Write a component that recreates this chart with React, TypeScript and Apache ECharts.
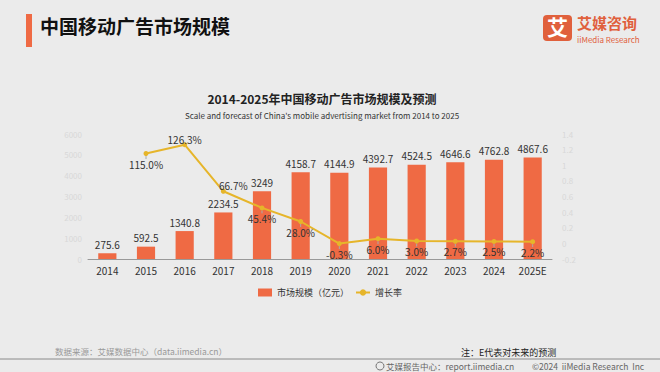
import React, { useEffect, useRef } from "react";
import * as echarts from "echarts";

const categories = ["2014", "2015", "2016", "2017", "2018", "2019", "2020", "2021", "2022", "2023", "2024", "2025E"];
const marketSize = [275.6, 592.5, 1340.8, 2234.5, 3249, 4158.7, 4144.9, 4392.7, 4524.5, 4646.6, 4762.8, 4867.6];
const growthRate: (number | string)[] = ["-", 1.15, 1.263, 0.667, 0.454, 0.28, -0.003, 0.06, 0.03, 0.027, 0.025, 0.022];
const leftTicks = { min: 0, max: 6000, interval: 1000 };
const rightTicks = { min: -0.2, max: 1.4, interval: 0.2 };

const FONT = "'Noto Sans CJK SC', 'Noto Sans', sans-serif";
const ORANGE = "#ef6a44";
const GOLD = "#e6b52a";

export default function App() {
  const ref = useRef<HTMLDivElement>(null);
  useEffect(() => {
    document.body.style.margin = "0";
    const chart = echarts.init(ref.current!, undefined, { renderer: "svg" });
    chart.setOption({
      animation: false,
      backgroundColor: "#ebebeb",
      textStyle: { fontFamily: FONT },
      grid: { left: 88, right: 108, top: 134, bottom: 113, containLabel: false },
      legend: {
        top: 283,
        left: "center",
        itemWidth: 14,
        itemHeight: 8,
        itemGap: 6,
        textStyle: { fontSize: 9, color: "#333", fontFamily: FONT },
        data: [
          { name: "市场规模（亿元）", icon: "rect" },
          { name: "增长率" },
        ],
      },
      xAxis: {
        type: "category",
        data: categories,
        axisLine: { lineStyle: { color: "#999", width: 1 } },
        axisTick: { show: false },
        axisLabel: { color: "#333", fontSize: 10, margin: 6, fontFamily: FONT },
      },
      yAxis: [
        {
          type: "value",
          ...leftTicks,
          splitLine: { show: false },
          axisLine: { show: false },
          axisTick: { show: false },
          axisLabel: { color: "#d8d8d8", fontSize: 8, margin: 6, formatter: (v: number) => String(v) },
        },
        {
          type: "value",
          ...rightTicks,
          splitLine: { show: false },
          axisLine: { show: false },
          axisTick: { show: false },
          axisLabel: {
            color: "#d8d8d8",
            fontSize: 8,
            margin: 10,
            formatter: (v: number) => String(Math.round(v * 10) / 10),
          },
        },
      ],
      series: [
        {
          name: "市场规模（亿元）",
          type: "bar",
          data: marketSize,
          barWidth: "47%",
          itemStyle: { color: ORANGE },
          label: { show: true, position: "top", color: "#333", fontSize: 10, distance: 4, fontFamily: FONT },
        },
        {
          name: "增长率",
          type: "line",
          yAxisIndex: 1,
          data: growthRate.map((v, i) => {
            if (i === 2) return { value: v, label: { position: "top", distance: -2 } };
            if (i === 3) return { value: v, label: { position: "top", distance: 0 } };
            return v;
          }),
          itemStyle: { color: GOLD },
          lineStyle: { color: GOLD, width: 2 },
          symbol: "circle",
          symbolSize: 5,
          label: {
            show: true,
            position: "bottom",
            distance: 3,
            color: "#333",
            fontSize: 10,
            fontFamily: FONT,
            formatter: (p: any) => (p.value * 100).toFixed(1) + "%",
          },
          labelLine: { show: true, lineStyle: { color: "#aaa", width: 1 } },
          labelLayout: (p: any) => (p.dataIndex === 3 ? { dx: 10, dy: 2 } : {}),
        },
      ],
      graphic: [
        { type: "rect", left: 26, top: 14, shape: { width: 6, height: 33 }, style: { fill: ORANGE } },
        {
          type: "text", left: 40, top: 16,
          style: { text: "中国移动广告市场规模", fontSize: 19, fontWeight: "bold", fill: "#111", fontFamily: FONT },
        },
        { type: "rect", left: 543, top: 15, shape: { width: 29, height: 26, r: 4 }, style: { fill: "#e0603c" } },
        {
          type: "text", left: 547, top: 15,
          style: { text: "艾", fontSize: 21, fontWeight: "bold", fill: "#fff", fontFamily: FONT },
        },
        {
          type: "text", x: 577, y: 22,
          style: { text: "艾媒咨询", fontSize: 15, fontWeight: "bold", fill: "#e0603c", verticalAlign: "middle", fontFamily: FONT },
        },
        {
          type: "text", x: 577, y: 39,
          style: { text: "iiMedia Research", fontSize: 8, fill: "#e0603c", verticalAlign: "middle", fontFamily: FONT },
        },
        {
          type: "text", x: 322, y: 98,
          style: { text: "2014-2025年中国移动广告市场规模及预测", fontSize: 12, fontWeight: "bold", fill: "#222", align: "center", verticalAlign: "middle", fontFamily: FONT },
        },
        {
          type: "text", x: 322, y: 115,
          style: { text: "Scale and forecast of China's mobile advertising market from 2014 to 2025", fontSize: 8, fill: "#333", align: "center", verticalAlign: "middle", fontFamily: FONT },
        },
        {
          type: "text", x: 55, y: 351,
          style: { text: "数据来源：艾媒数据中心（data.iimedia.cn）", fontSize: 8.5, fill: "#999", verticalAlign: "middle", fontFamily: FONT },
        },
        {
          type: "text", x: 461, y: 352,
          style: { text: "注：E代表对未来的预测", fontSize: 9, fill: "#222", verticalAlign: "middle", fontFamily: FONT },
        },
        { type: "line", shape: { x1: 0, y1: 359, x2: 660, y2: 359 }, style: { stroke: "#8a8a8a", lineWidth: 1 } },
        { type: "circle", shape: { cx: 380, cy: 366, r: 4 }, style: { fill: "none", stroke: "#777", lineWidth: 1 } },
        {
          type: "text", x: 386, y: 366,
          style: { text: "艾媒报告中心：report.iimedia.cn", fontSize: 8.5, fill: "#666", verticalAlign: "middle", fontFamily: FONT },
        },
        {
          type: "text", x: 532, y: 366,
          style: { text: "©2024  iiMedia Research  Inc", fontSize: 8.5, fill: "#666", verticalAlign: "middle", fontFamily: FONT },
        },
      ],
    });
    return () => chart.dispose();
  }, []);
  return <div ref={ref} style={{ position: "absolute", left: 0, top: 0, width: 660, height: 372 }} />;
}
